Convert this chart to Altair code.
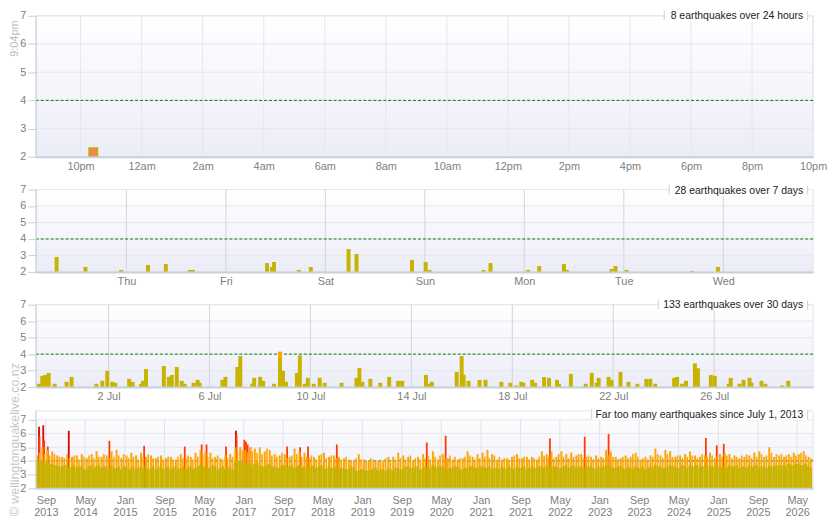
import altair as alt
import pandas as pd
from datetime import datetime, timezone

FONT = "Liberation Sans"
OLIVE, ORANGE, RED, DARKRED = "#c8b400", "#ffa500", "#ff3c00", "#dd0000"
AXIS_C = "#c6d2d8"
LABEL_C = "#808080"
W = 783

EPOCH = datetime(1970, 1, 1, tzinfo=timezone.utc)


def iso_ms(s):
    return (datetime.fromisoformat(s).replace(tzinfo=timezone.utc) - EPOCH).total_seconds() * 1000.0


ORIGIN_MS = iso_ms("2026-06-29T00:00")   # times below are days since this origin
DAY_MS = 86400000.0
HOUR_MS = 3600000.0


def d_ms(d):
    return ORIGIN_MS + d * DAY_MS


# ---------------- data ----------------
# last 24 hours
day_time = ["2026-07-28T22:25"]
day_mag = [2.3]

# last 7 days (days since origin, magnitude)
week_t = [23.298, 23.588, 23.947, 24.217, 24.396, 24.636, 24.669, 25.414, 25.464, 25.484,
          25.734, 25.854, 26.233, 26.313, 26.871, 27.008, 27.048, 27.590, 27.660, 28.039,
          28.149, 28.398, 28.428, 28.877, 28.917, 29.027, 29.686, 29.946]
week_mag = [2.91, 2.30, 2.12, 2.42, 2.48, 2.12, 2.12, 2.54, 2.30, 2.60,
            2.12, 2.30, 3.39, 3.09, 2.73, 2.60, 2.12, 2.12, 2.54, 2.12,
            2.36, 2.48, 2.12, 2.18, 2.36, 2.12, 2.06, 2.30]

# last 30 days
month_t = [0.234, 0.372, 0.490, 0.628, 0.864, 1.336, 1.533, 2.516, 2.752, 2.949,
           3.146, 3.264, 3.815, 3.952, 4.287, 4.366, 4.484, 5.191, 5.388, 5.506,
           5.703, 5.899, 6.017, 6.371, 6.529, 6.607, 7.512, 7.630, 8.102, 8.220,
           8.692, 8.771, 9.007, 9.125, 9.558, 9.794, 9.794, 9.912, 10.030, 10.463,
           10.581, 10.778, 10.896, 11.132, 11.368, 11.565, 12.233, 12.823, 12.941, 13.059,
           13.374, 13.767, 14.121, 14.475, 14.633, 15.577, 15.695, 15.813, 16.796, 16.993,
           17.072, 17.268, 17.701, 17.937, 18.567, 18.921, 19.157, 19.354, 19.433, 19.787,
           19.905, 20.259, 20.455, 20.770, 20.849, 21.321, 21.911, 22.147, 22.344, 22.422,
           22.815, 22.933, 23.287, 23.602, 23.956, 24.310, 24.467, 24.664, 25.411, 25.529,
           25.726, 25.883, 26.237, 26.355, 26.867, 27.024, 27.575, 27.653, 28.007, 28.165,
           28.401, 28.480, 28.873, 29.031, 29.700, 29.936]
month_mag = [2.2, 2.68, 2.74, 2.86, 2.2, 2.32, 2.62, 2.2, 2.38, 2.98,
             2.32, 2.26, 2.5, 2.32, 2.2, 2.38, 3.1, 3.28, 2.62, 2.74,
             3.22, 2.38, 2.2, 2.26, 2.44, 2.26, 2.44, 2.62, 3.22, 3.88,
             2.2, 2.56, 2.62, 2.38, 2.2, 4.15, 3.75, 2.98, 2.32, 2.86,
             3.92, 2.2, 2.56, 2.2, 2.56, 2.26, 2.26, 2.56, 3.16, 2.32,
             2.5, 2.26, 2.62, 2.38, 2.38, 2.74, 2.2, 2.32, 2.92, 3.88,
             2.74, 2.38, 2.44, 2.44, 2.32, 2.26, 2.1, 2.32, 2.26, 2.44,
             2.26, 2.62, 2.56, 2.44, 2.2, 2.8, 2.2, 2.86, 2.26, 2.56,
             2.62, 2.44, 2.92, 2.32, 2.2, 2.5, 2.5, 2.2, 2.56, 2.62,
             2.2, 2.38, 3.44, 3.14, 2.74, 2.68, 2.2, 2.56, 2.2, 2.44,
             2.56, 2.26, 2.38, 2.2, 2.1, 2.38]

# since July 2013: half-month levels (magnitude x10), Jul 2013 .. Jul 2026
lt_olive = [40, 40, 39, 38, 37, 36,
            37, 36, 35, 36, 34, 37, 36, 35, 36, 37, 35, 34,
            36, 35, 34, 36, 37, 35, 34, 36, 35, 34, 36, 35,
            34, 36, 35, 37, 36, 35, 36, 35, 34, 36, 39, 40,
            39, 38, 38, 37, 36, 38, 36, 35, 37, 36, 35, 37,
            36, 35, 37, 36, 35, 36, 35, 34, 35, 34, 35, 33,
            34, 33, 34, 33, 34, 35, 33, 35, 34, 36, 35, 36,
            35, 36, 37, 35, 36, 34, 35, 36, 34, 35, 36, 35,
            36, 35, 34, 35, 36, 34, 35, 36, 35, 34, 36, 35,
            36, 37, 35, 36, 35, 37, 36, 35, 36, 35, 36, 34,
            35, 37, 36, 35, 36, 34, 35, 36, 35, 34, 36, 37,
            36, 35, 37, 36, 35, 36, 37, 36, 35, 36, 37, 36,
            35, 36, 37, 36, 35, 36, 37, 36, 35, 36, 37, 36,
            36, 37, 38, 37, 38, 37, 36]
lt_olive_b = [39, 39, 38, 37, 36, 37,
              35, 37, 36, 34, 36, 35, 37, 36, 34, 35, 36, 36,
              34, 36, 35, 35, 34, 36, 35, 34, 36, 35, 34, 36,
              35, 34, 36, 36, 35, 37, 34, 36, 35, 34, 40, 39,
              38, 37, 39, 36, 37, 36, 35, 37, 35, 37, 36, 35,
              35, 36, 35, 37, 34, 35, 36, 35, 34, 36, 33, 34,
              33, 34, 35, 34, 33, 34, 35, 34, 36, 35, 36, 34,
              36, 35, 36, 36, 35, 35, 36, 34, 35, 36, 35, 36,
              35, 36, 35, 34, 35, 36, 34, 35, 36, 35, 35, 36,
              35, 36, 36, 35, 36, 35, 37, 36, 35, 36, 35, 36,
              36, 36, 35, 36, 35, 36, 34, 35, 36, 35, 35, 36,
              35, 36, 36, 35, 37, 35, 36, 37, 36, 35, 36, 37,
              36, 35, 36, 37, 36, 35, 36, 37, 36, 35, 36, 37,
              37, 36, 37, 38, 37, 38, 35]
lt_orange = [44, 50, 48, 47, 44, 43,
             45, 43, 44, 45, 42, 45, 47, 43, 44, 47, 48, 42,
             44, 46, 44, 46, 43, 44, 42, 44, 42, 43, 41, 45,
             42, 43, 46, 48, 47, 46, 43, 42, 44, 45, 50, 50,
             48, 50, 49, 50, 47, 48, 45, 44, 45, 43, 49, 47,
             46, 42, 43, 44, 46, 43, 44, 43, 42, 41, 40, 45,
             41, 40, 41, 40, 40, 43, 43, 46, 44, 43, 40, 43,
             45, 44, 47, 41, 45, 42, 41, 41, 42, 47, 43, 45,
             46, 48, 45, 41, 41, 42, 43, 45, 42, 43, 43, 41,
             47, 45, 47, 43, 47, 45, 46, 44, 45, 43, 43, 44,
             43, 48, 47, 43, 42, 44, 43, 46, 41, 43, 44, 49,
             44, 48, 47, 43, 44, 45, 47, 44, 43, 44, 46, 42,
             45, 46, 45, 44, 42, 43, 44, 46, 47, 43, 50, 43,
             44, 43, 45, 46, 45, 47, 43]
lt_orange_b = [46, 45, 44, 45, 43, 42,
               42, 44, 41, 43, 44, 42, 43, 45, 42, 43, 44, 45,
               42, 43, 41, 43, 45, 42, 43, 41, 43, 41, 43, 42,
               44, 41, 43, 45, 43, 42, 44, 41, 42, 43, 47, 48,
               46, 47, 46, 45, 49, 44, 43, 46, 42, 44, 45, 43,
               43, 44, 41, 45, 42, 44, 42, 41, 43, 40, 42, 41,
               40, 42, 40, 41, 42, 40, 41, 42, 41, 44, 42, 41,
               42, 41, 43, 44, 42, 44, 43, 42, 43, 44, 41, 42,
               43, 42, 44, 43, 42, 41, 44, 42, 43, 41, 42, 43,
               44, 43, 42, 45, 43, 42, 43, 45, 42, 44, 41, 42,
               42, 44, 43, 41, 43, 42, 45, 43, 42, 41, 43, 45,
               42, 45, 43, 44, 42, 43, 44, 42, 45, 43, 44, 43,
               43, 44, 42, 43, 44, 45, 42, 43, 45, 44, 46, 45,
               45, 44, 43, 44, 46, 44, 42]
big_date = ["2013-07-21", "2013-07-24", "2013-08-16", "2013-08-21", "2013-09-13",
            "2014-01-20", "2014-09-27", "2015-04-29", "2016-01-04", "2016-04-17",
            "2016-05-17", "2016-09-14", "2016-11-14", "2016-11-18", "2017-01-05",
            "2017-01-15", "2017-01-25", "2017-02-11", "2017-09-25", "2017-12-14",
            "2018-02-01", "2018-07-28", "2020-02-02", "2020-05-28", "2022-03-01",
            "2022-10-01", "2023-02-25", "2024-10-16", "2024-12-22", "2025-02-03"]
big_mag = [6.5, 5.8, 6.6, 5.5, 5.05, 6.2, 5.47, 5.1, 5.05, 5.2,
           5.2, 5.05, 6.2, 5.9, 5.55, 5.4, 5.2, 5.0, 5.05, 5.0,
           5.05, 5.2, 5.35, 5.84, 5.63, 5.77, 5.96, 5.68, 5.14, 5.25]

lt_ticks = ["2013-09-01", "2014-05-01", "2015-01-01", "2015-09-01", "2016-05-01",
            "2017-01-01", "2017-09-01", "2018-05-01", "2019-01-01", "2019-09-01",
            "2020-05-01", "2021-01-01", "2021-09-01", "2022-05-01", "2023-01-01",
            "2023-09-01", "2024-05-01", "2025-01-01", "2025-09-01", "2026-05-01"]

titles = ["8 earthquakes over 24 hours", "28 earthquakes over 7 days",
          "133 earthquakes over 30 days", "Far too many earthquakes since July 1, 2013"]


# ---------------- helpers ----------------
def mag_class(m):
    if m < 4:
        return "a"
    if m < 5:
        return "b"
    if m < 6:
        return "c"
    return "d"


COLOR = alt.Color("cls:N", scale=alt.Scale(domain=["a", "b", "c", "d"],
                                           range=[OLIVE, ORANGE, RED, DARKRED]), legend=None)
ONE = pd.DataFrame({"k": [0]})


def quake_df(times_ms, mags):
    df = pd.DataFrame({"t": times_ms, "mag": mags})
    df["base"] = 2.0
    df["cls"] = [mag_class(m) for m in mags]
    return df.sort_values("mag", ascending=False).reset_index(drop=True)


def panel(height, x_dom, x_ticks, label_expr, vgrid_color, label_pad, marks, title,
          box_left, text_y, bg_top=0, line_height=None, extras=()):
    xs = alt.Scale(domain=x_dom, nice=False, zero=False, padding=0)
    ys = alt.Scale(domain=[2, 7], nice=False, zero=False)
    xkw = dict(values=x_ticks, labelExpr=label_expr, grid=False, ticks=False,
               domainColor=AXIS_C, domainWidth=2, labelColor=LABEL_C, labelFontSize=11,
               labelFont=FONT, labelPadding=label_pad, labelFlush=False,
               labelOverlap=False, title=None, zindex=1)
    if line_height:
        xkw["labelLineHeight"] = line_height
    xax = alt.Axis(**xkw)
    yax = alt.Axis(values=[2, 3, 4, 5, 6, 7], format="d", grid=False, tickColor=AXIS_C,
                   tickSize=8, domainColor=AXIS_C, labelColor=LABEL_C, labelFontSize=11,
                   labelFont=FONT, labelPadding=2, title=None, zindex=1)

    def X(f):
        return alt.X(f, scale=xs, axis=xax)

    def Y(f):
        return alt.Y(f, scale=ys, axis=yax)

    grad = alt.Gradient(gradient="linear",
                        stops=[alt.GradientStop(color="#ffffff", offset=0),
                               alt.GradientStop(color="#ececf8", offset=1)],
                        x1=0, x2=0, y1=0, y2=1)
    layers = [
        alt.Chart(ONE).mark_rect(color=grad, stroke="#e2e5ea", strokeWidth=1).encode(
            x=alt.value(0), x2=alt.value(W), y=alt.value(bg_top), y2=alt.value(height)),
        alt.Chart(pd.DataFrame({"mag": [2, 3, 4, 5, 6, 7]})).mark_rule(
            color="#e6e6ee", strokeWidth=1).encode(y=Y("mag:Q")),
        alt.Chart(pd.DataFrame({"t": x_ticks})).mark_rule(
            color=vgrid_color, strokeWidth=1).encode(x=X("t:Q")),
        alt.Chart(pd.DataFrame({"mag": [4]})).mark_rule(
            color="#008000", strokeDash=[3, 2], strokeWidth=1).encode(y=Y("mag:Q")),
    ]
    for mk in marks:
        layers.append(mk(X, Y))
    # label box
    layers += [
        alt.Chart(ONE).mark_rect(color="white").encode(
            x=alt.value(box_left), x2=alt.value(W - 5.5),
            y=alt.value(text_y - 6), y2=alt.value(text_y + 5)),
        alt.Chart(ONE).mark_rule(color="#cfcfcf").encode(
            x=alt.value(box_left), y=alt.value(text_y - 6), y2=alt.value(text_y + 4)),
        alt.Chart(ONE).mark_rule(color="#cfcfcf").encode(
            x=alt.value(W - 5.5), y=alt.value(text_y - 5), y2=alt.value(text_y + 4)),
        alt.Chart(ONE).mark_text(align="right", baseline="middle", fontSize=10.5,
                                 font=FONT, color="#222222").encode(
            x=alt.value(W - 10), y=alt.value(text_y), text=alt.value(title)),
    ]
    for ex in extras:
        layers.append(ex)
    return alt.layer(*layers).properties(width=W, height=height)


def bars(df, size, **kw):
    def mk(X, Y):
        return alt.Chart(df).mark_bar(size=size, **kw).encode(
            x=X("t:Q"), y=Y("mag:Q"), y2=alt.Y2("base:Q"), color=COLOR,
            order=alt.Order("mag:Q", sort="descending"))
    return mk


# ---------------- panel 1: 24 hours ----------------
p1_df = pd.DataFrame({"t": [iso_ms(s) for s in day_time], "mag": day_mag, "base": 2.0})


def p1_mark(X, Y):
    return alt.Chart(p1_df).mark_bar(size=8, fill="#f5845c", stroke="#c8aa00",
                                     strokeWidth=2).encode(
        x=X("t:Q"), y=Y("mag:Q"), y2=alt.Y2("base:Q"))


start22 = iso_ms("2026-07-28T22:00")
p1_ticks = [start22 + 2 * HOUR_MS * n for n in range(13)]
p1 = panel(142, [iso_ms("2026-07-28T20:32"), iso_ms("2026-07-29T22:00")], p1_ticks,
           "lower(utcFormat(datum.value, '%-I%p'))", "#e6e6ee", 4, [p1_mark], titles[0],
           633, 0.5,
           extras=[alt.Chart(ONE).mark_text(angle=270, fontSize=11, font=FONT,
                                            color="#bbbbbb").encode(
               x=alt.value(-21), y=alt.value(23), text=alt.value("9:04pm"))])

# ---------------- panel 2: 7 days ----------------
p2 = panel(83, [d_ms(23.089), d_ms(30.903)], [d_ms(d) for d in range(24, 31)],
           "utcFormat(datum.value, '%a')", "#d4d4dc", 4,
           [bars(quake_df([d_ms(t) for t in week_t], week_mag), 4)], titles[1], 638, 1.3)

# ---------------- panel 3: 30 days ----------------
p3 = panel(83, [d_ms(0.116), d_ms(30.92)], [d_ms(d) for d in range(3, 30, 4)],
           "utcFormat(datum.value, '%-d %b')", "#d4d4dc", 4,
           [bars(quake_df([d_ms(t) for t in month_t], month_mag), 4)], titles[2], 627, 0.7)

# ---------------- panel 4: since 2013 ----------------
months = pd.date_range("2013-07-01", "2026-08-01", freq="MS")
m_start = [iso_ms(m.strftime("%Y-%m-%d")) for m in months[:-1]]
m_end = [iso_ms(m.strftime("%Y-%m-%d")) for m in months[1:]]
lt_df = pd.DataFrame({
    "t": m_start, "t2": m_end,
    "tm": [(a + b) / 2 for a, b in zip(m_start, m_end)],
    "ta": [a + 0.3 * (b - a) for a, b in zip(m_start, m_end)],
    "tb": [a + 0.75 * (b - a) for a, b in zip(m_start, m_end)],
    "olive": [v / 10 for v in lt_olive], "olive_b": [v / 10 for v in lt_olive_b],
    "orange": [v / 10 for v in lt_orange], "orange_b": [v / 10 for v in lt_orange_b],
    "base": 2.0})
big_df = quake_df([iso_ms(s) for s in big_date], big_mag)


def lt_red(X, Y):
    return alt.Chart(big_df).mark_bar(size=1.8).encode(
        x=X("t:Q"), y=Y("mag:Q"), y2=alt.Y2("base:Q"), color=COLOR,
        order=alt.Order("mag:Q", sort="descending"))


def lt_orange_mk(X, Y):
    return alt.Chart(lt_df).mark_bar(size=2.0, color=ORANGE).encode(
        x=X("ta:Q"), y=Y("orange:Q"), y2=alt.Y2("base:Q"))


def lt_orange_b_mk(X, Y):
    return alt.Chart(lt_df).mark_bar(size=1.6, color=ORANGE).encode(
        x=X("tb:Q"), y=Y("orange_b:Q"), y2=alt.Y2("base:Q"))


def lt_olive_mk(X, Y):
    return alt.Chart(lt_df).mark_rect(color=OLIVE).encode(
        x=X("t:Q"), x2=alt.X2("tm:Q"), y=Y("olive:Q"), y2=alt.Y2("base:Q"))


def lt_olive_b_mk(X, Y):
    return alt.Chart(lt_df).mark_rect(color=OLIVE).encode(
        x=X("tm:Q"), x2=alt.X2("t2:Q"), y=Y("olive_b:Q"), y2=alt.Y2("base:Q"))


lt_tick_ms = [iso_ms(s) for s in lt_ticks]
p4 = panel(69, [iso_ms("2013-07-01"), iso_ms("2026-08-07")], lt_tick_ms,
           "[utcFormat(datum.value, '%b'), utcFormat(datum.value, '%Y')]", "#e2e2ea", 6,
           [lt_red, lt_orange_mk, lt_orange_b_mk, lt_olive_mk, lt_olive_b_mk],
           titles[3], 560, -5, bg_top=-9, line_height=12,
           extras=[alt.Chart(ONE).mark_rule(color=AXIS_C).encode(
                       x=alt.value(0), y=alt.value(-9), y2=alt.value(0)),
                   alt.Chart(ONE).mark_text(angle=270, fontSize=12.5, font=FONT,
                                            color="#c8c8c8").encode(
                       x=alt.value(-21), y=alt.value(20),
                       text=alt.value("© wellingtonquakelive.co.nz"))])

chart = alt.vconcat(p1, p2, p3, p4, spacing=33, bounds="flush").properties(
    padding={"left": 0, "top": 0, "right": 0, "bottom": 0},
    background="white",
).configure_view(stroke=None)

chart.save("out.html", embed_options={"renderer": "svg", "actions": False})
